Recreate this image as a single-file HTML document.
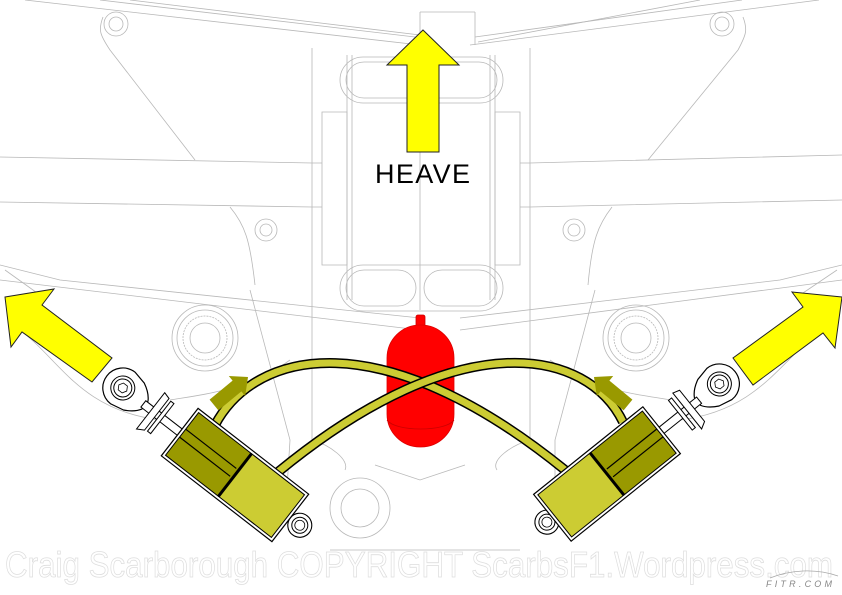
<!DOCTYPE html>
<html><head><meta charset="utf-8"><style>
html,body{margin:0;padding:0;background:#fff}
svg{display:block}
</style></head><body>
<svg width="842" height="595" viewBox="0 0 842 595" xmlns="http://www.w3.org/2000/svg">
<rect width="842" height="595" fill="#fff"/>
<g fill="none" stroke="#b8b8b8" stroke-width="0.8">
  <path d="M25,0 L420,45 M100,0 L415,37"/>
  <path d="M130,0 L420,35"/>
  <path d="M819,0 L470,45 M742,0 L475,37"/>
  <path d="M700,0 L478,42"/>
  <path d="M312,48 L312,440 M530,48 L530,440"/>
  <path d="M352,55 L352,300 M347,55 L347,300 M490,55 L490,300 M495,55 L495,300"/>
  <path d="M420,12 L420,310 M475,12 L475,45 M420,12 L475,12"/>
  <path d="M322,112 L347,112 L347,265 L322,265 Z M495,112 L520,112 L520,265 L495,265 Z"/>
  <rect x="340" y="57" width="163" height="46" rx="23"/>
  <rect x="346" y="62" width="151" height="36" rx="18"/>
  <rect x="340" y="265" width="163" height="46" rx="23"/>
  <rect x="346" y="270" width="70" height="36" rx="18"/>
  <rect x="424" y="270" width="73" height="36" rx="18"/>
  <path d="M0,157 L312,163 M0,202 L312,207 M530,163 L842,155 M530,207 L842,200"/>
  <path d="M312,163 L322,163 M312,207 L322,207 M520,163 L530,163 M520,207 L530,207"/>
  <path d="M103,17 C98,30 100,35 110,50 L195,160"/>
  <path d="M743,17 C748,30 746,35 738,50 L648,160"/>
  <circle cx="116" cy="24" r="12"/><circle cx="116" cy="24" r="7"/>
  <circle cx="722" cy="24" r="12"/><circle cx="722" cy="24" r="7"/>
  <circle cx="266" cy="230" r="11"/><circle cx="266" cy="230" r="6"/>
  <circle cx="574" cy="230" r="11"/><circle cx="574" cy="230" r="6"/>
  <path d="M230,207 C245,225 250,240 255,285 M612,207 C598,225 592,240 588,285"/>
  <path d="M0,265 L60,280 L420,318 M0,280 L420,330"/>
  <path d="M842,265 L780,280 L460,318 M842,280 L460,330"/>
  <path d="M5,270 L40,295 M20,330 C60,360 80,410 160,420 M170,400 C200,395 250,390 290,360"/>
  <path d="M837,270 L800,295 M822,330 C780,360 760,410 680,420 M672,400 C640,395 590,390 550,360"/>
  <path d="M250,290 L290,440 L285,520 M595,290 L555,440 L555,520"/>
  <circle cx="205" cy="338" r="33"/><circle cx="205" cy="338" r="28"/><circle cx="205" cy="338" r="22" stroke-dasharray="2 1"/><circle cx="205" cy="338" r="15"/>
  <circle cx="636" cy="338" r="33"/><circle cx="636" cy="338" r="28"/><circle cx="636" cy="338" r="22" stroke-dasharray="2 1"/><circle cx="636" cy="338" r="15"/>
  <path d="M312,440 C330,445 350,460 345,470 M530,440 C512,445 490,460 497,470"/>
  <circle cx="360" cy="508" r="30"/><circle cx="360" cy="508" r="19"/>
  <path d="M330,550 L520,550"/>
  <path d="M375,465 L420,480 L465,465"/>
</g>
<rect x="416" y="315" width="9" height="16" rx="2" fill="#f00" stroke="#c00" stroke-width="0.8"/>
<rect x="387" y="325" width="67" height="122" rx="33" fill="#f00" stroke="#d00" stroke-width="0.8"/>
<path d="M387,420 C395,432 446,432 454,420" fill="none" stroke="#c00" stroke-width="0.8"/>
<g fill="none">
  <path d="M215,425 C255,350 380,320 565,470" stroke="#000" stroke-width="10"/>
  <path d="M215,425 C255,350 380,320 565,470" stroke="#cccc33" stroke-width="7"/>
  <path d="M623,422 C588,350 463,320 278,472" stroke="#000" stroke-width="10"/>
  <path d="M623,422 C588,350 463,320 278,472" stroke="#cccc33" stroke-width="7"/>
</g>
<g transform="translate(235,475) rotate(37.8)" stroke="#000">
  <path d="M-142,-20 L-128,-17 Q-118,-12 -114,-5 L-114,5 Q-118,12 -128,17 L-142,20 A20,20 0 0 1 -142,-20 Z" fill="#fff" stroke-width="1.2"/>
  <circle cx="-142" cy="0" r="12" fill="#fff" stroke-width="1"/>
  <circle cx="-142" cy="0" r="9" fill="#fff" stroke-width="1"/>
  <polygon points="-147,0 -144.5,-4.3 -139.5,-4.3 -137,0 -139.5,4.3 -144.5,4.3" fill="#fff" stroke-width="0.8"/>
  <rect x="-116" y="-4" width="52" height="8" fill="#fff" stroke-width="1"/>
  <polygon points="-106,-22 -99,-20 -99,20 -106,24" fill="#fff" stroke-width="1"/>
  <rect x="-96" y="-19" width="4" height="38" fill="#fff" stroke-width="1"/>
  <circle cx="82" cy="0" r="12" fill="#fff" stroke-width="1.1"/>
  <circle cx="82" cy="0" r="8" fill="#fff" stroke-width="1"/>
  <circle cx="82" cy="0" r="5" fill="#fff" stroke-width="0.8"/>
  <rect x="-70" y="-30" width="140" height="60" fill="#fff" stroke-width="1.2"/>
  <rect x="-67" y="-27" width="67" height="54" fill="#999900" stroke-width="1"/>
  <rect x="0" y="-27" width="67" height="54" fill="#cccc33" stroke-width="1"/>
  <line x1="0" y1="-27" x2="0" y2="27" stroke-width="3"/>
  <line x1="-67" y1="-6" x2="-3" y2="-6" stroke-width="1.2"/>
  <line x1="-67" y1="4" x2="-3" y2="4" stroke-width="1.2"/>
</g>
<g transform="translate(607,474) rotate(-38.7)" stroke="#000">
  <path d="M144,-20 L130,-17 Q120,-12 116,-5 L116,5 Q120,12 130,17 L144,20 A20,20 0 0 0 144,-20 Z" fill="#fff" stroke-width="1.2"/>
  <circle cx="144" cy="0" r="12" fill="#fff" stroke-width="1"/>
  <circle cx="144" cy="0" r="9" fill="#fff" stroke-width="1"/>
  <polygon points="139,0 141.5,-4.3 146.5,-4.3 149,0 146.5,4.3 141.5,4.3" fill="#fff" stroke-width="0.8"/>
  <rect x="64" y="-4" width="54" height="8" fill="#fff" stroke-width="1"/>
  <polygon points="102,-22 109,-20 109,20 102,24" fill="#fff" stroke-width="1"/>
  <rect x="94" y="-19" width="4" height="38" fill="#fff" stroke-width="1"/>
  <circle cx="-77" cy="0" r="12" fill="#fff" stroke-width="1.1"/>
  <circle cx="-77" cy="0" r="8" fill="#fff" stroke-width="1"/>
  <circle cx="-77" cy="0" r="5" fill="#fff" stroke-width="0.8"/>
  <rect x="-70" y="-30" width="140" height="60" fill="#fff" stroke-width="1.2"/>
  <rect x="-67" y="-27" width="67" height="54" fill="#cccc33" stroke-width="1"/>
  <rect x="0" y="-27" width="67" height="54" fill="#999900" stroke-width="1"/>
  <line x1="0" y1="-27" x2="0" y2="27" stroke-width="3"/>
  <line x1="3" y1="-4" x2="67" y2="-4" stroke-width="1.2"/>
  <line x1="3" y1="6" x2="67" y2="6" stroke-width="1.2"/>
</g>
<polygon points="209.6,399.6 232.6,380.6 228.8,376 248,377 245.2,396 241.4,391.4 218.4,410.4" fill="#999900"/>
<polygon points="632.4,399.6 609.4,380.6 613.2,376 594,377 596.8,396 600.6,391.4 623.6,410.4" fill="#999900"/>
<polygon points="423,30 459,65 439,65 439,152 407,152 407,65 387,65" fill="#ff0" stroke="#222" stroke-width="1"/>
<polygon points="5,297 54,289 42,305 112,358 92,382 22,332 11,347" fill="#ff0" stroke="#222" stroke-width="1"/>
<polygon points="792,292 842,297 835,348 823,333 753,385 733,358 803,307" fill="#ff0" stroke="#222" stroke-width="1"/>
<text x="375" y="183" font-family="Liberation Sans, sans-serif" font-size="27" fill="#000" textLength="95">HEAVE</text>
<text x="5" y="577" font-family="Liberation Sans, sans-serif" font-size="36" fill="#fff" stroke="#dedede" stroke-width="0.8" textLength="828" lengthAdjust="spacingAndGlyphs">Craig Scarborough COPYRIGHT ScarbsF1.Wordpress.com</text>
<text x="766" y="587" font-family="Liberation Sans, sans-serif" font-size="9" font-style="italic" fill="#888" textLength="66">FITR.COM</text>
<path d="M770,578 C790,570 815,568 838,576" fill="none" stroke="#aaa" stroke-width="0.8"/>
</svg>
</body></html>
